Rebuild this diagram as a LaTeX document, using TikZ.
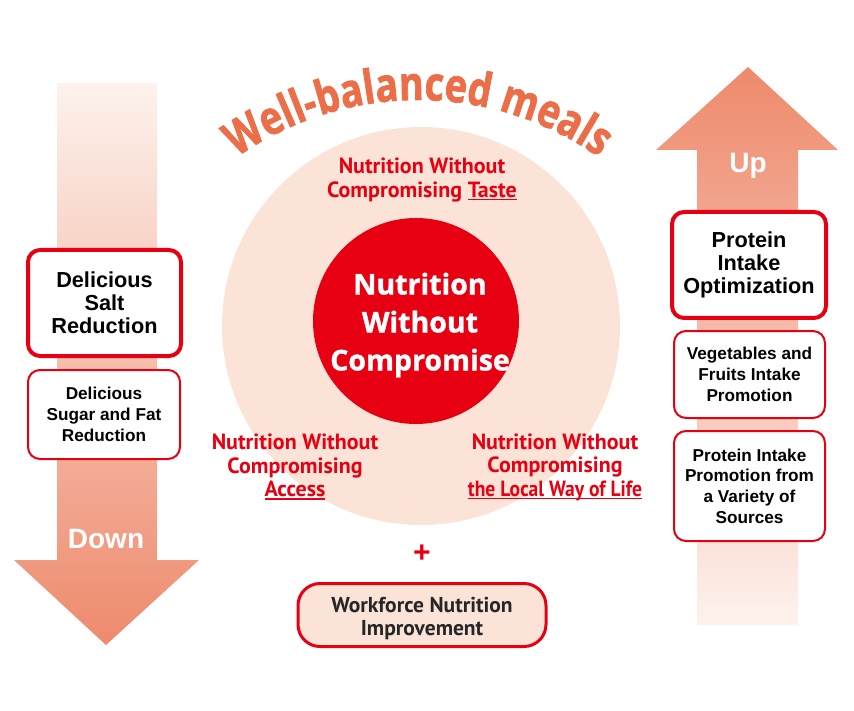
\documentclass[tikz,border=0pt]{standalone}
\usepackage{fontspec}
\usepackage{graphicx}
\usepackage{tikz}
\usetikzlibrary{positioning,decorations.text,shapes}
\setmainfont{Liberation Sans}
\newfontfamily\redfont{PT Sans}
\newfontfamily\roundfont[BoldFeatures={FakeBold=1.2}]{Open Sans}
\newfontfamily\titlefont[FakeStretch=0.8,BoldFeatures={FakeBold=1.5}]{Open Sans}
\newcommand\uln[1]{\leavevmode\setbox0\hbox{#1}\rlap{\rule[-3pt]{\wd0}{1.4pt}}\box0}
\definecolor{nred}{HTML}{E60012}
\definecolor{peach}{HTML}{FBE3D7}
\definecolor{salmon}{HTML}{EE8A6C}
\definecolor{pale}{HTML}{FDF2ED}
\definecolor{titleorange}{HTML}{EC6E48}
\tikzset{
  mainbox/.style={draw=nred, line width=4pt, fill=white, rounded corners=12pt,
    align=center, font=\bfseries\fontsize{21.7}{23}\selectfont, inner sep=2pt},
  subbox/.style={draw=nred, line width=2pt, fill=white, rounded corners=12pt,
    align=center, font=\bfseries\fontsize{17.2}{20.7}\selectfont, inner sep=2pt},
  redlabel/.style={text=nred, align=center,
    font=\redfont\bfseries\fontsize{22}{23.5}\selectfont},
  arrowword/.style={text=white, font=\bfseries\fontsize{28}{28}\selectfont}
}
\begin{document}
\begin{tikzpicture}[x=1pt,y=-1pt]
\useasboundingbox (0,0) rectangle (854,711);
% arrows
\shade[top color=pale, bottom color=salmon]
  (57,83) -- (157,83) -- (157,560) -- (199,560) -- (106,645) -- (14,560) -- (57,560) -- cycle;
\shade[top color=salmon, bottom color=pale]
  (748,67) -- (838,150) -- (798,150) -- (798,625) -- (697,625) -- (697,150) -- (656,150) -- cycle;
\node[arrowword] (down) at (106,539) {Down};
\node[arrowword] (up) at (748,166) {Up};
% circles
\fill[peach] (421,326) circle[radius=199];
\node[circle, fill=nred, minimum size=206pt, inner sep=0pt] (core) at (416,321) {};
\node[text=white, align=center,
  font=\roundfont\bfseries\fontsize{28.5}{38}\selectfont] (coretext) at (420,325)
  {Nutrition\\Without\\Compromise};
% title
\path[decorate, decoration={text along path, text align=center,
  text={|\titlefont\bfseries\fontsize{47}{47}\selectfont\color{titleorange}|Well-balanced meals}}]
  (418,415) ++(220:315) arc[start angle=220, end angle=320, radius=315];
% labels
\node[redlabel] (taste) at (422,180) {Nutrition Without\\Compromising \uln{Taste}};
\node[redlabel] (access) at (295,467) {Nutrition Without\\Compromising\\\uln{Access}};
\node[redlabel] (local) at (555,467) {Nutrition Without\\Compromising\\
  \uln{\scalebox{0.89}[1]{the Local Way of Life}}};
\node[text=nred, font=\bfseries\fontsize{30}{30}\selectfont] (plus) at (422,554) {+};
\node[draw=nred, line width=3pt, fill=peach, rounded corners=22pt, minimum width=248pt,
  minimum height=63pt, align=center, text=black!85,
  font=\redfont\bfseries\fontsize{21.5}{23}\selectfont] (work) at (422,615)
  {\rule{0pt}{21.5pt}Workforce Nutrition\\Improvement};
% left boxes
\node[mainbox, minimum width=153pt, minimum height=106pt] (salt) at (104.5,303)
  {Delicious\\Salt\\Reduction};
\node[subbox, minimum width=152pt, minimum height=89pt] (sugar) at (104,414.5)
  {Delicious\\Sugar and Fat\\Reduction};
% right boxes
\node[mainbox, minimum width=154pt, minimum height=106pt] (protein) at (749,265)
  {Protein\\Intake\\Optimization};
\node[subbox, minimum width=151pt, minimum height=87pt] (veg) at (749.5,374.5)
  {Vegetables and\\Fruits Intake\\Promotion};
\node[subbox, minimum width=151pt, minimum height=110pt] (sources) at (749.5,486)
  {Protein Intake\\Promotion from\\a Variety of\\Sources};
\end{tikzpicture}
\end{document}
